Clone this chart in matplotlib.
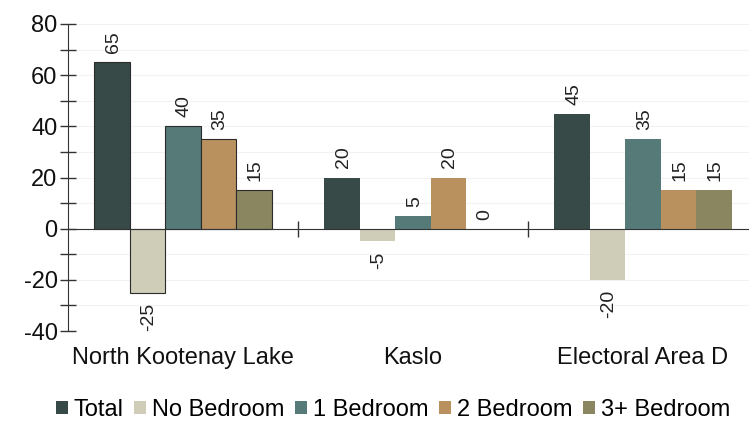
import matplotlib
matplotlib.use("Agg")
import matplotlib.pyplot as plt
import numpy as np
from matplotlib.ticker import MultipleLocator

plt.rcParams['font.family'] = ['Liberation Sans', 'DejaVu Sans']
plt.rcParams['axes.unicode_minus'] = False

categories = ["North Kootenay Lake", "Kaslo", "Electoral Area D"]
series_names = ["Total", "No Bedroom", "1 Bedroom", "2 Bedroom", "3+ Bedroom"]
total = [65, 20, 45]
no_bedroom = [-25, -5, -20]
one_bedroom = [40, 5, 35]
two_bedroom = [35, 20, 15]
three_bedroom = [15, 0, 15]
series_values = [total, no_bedroom, one_bedroom, two_bedroom, three_bedroom]
colors = ["#374a47", "#cfcdb8", "#557a78", "#b9915e", "#8a8660"]

fig = plt.figure(figsize=(7.49, 4.22), dpi=100)
ax = fig.add_axes([68/749, 1-331/422, 690/749, (331-24)/422])

n = len(series_names)
group_w = 0.77
bw = group_w / n
x = np.arange(len(categories))
for i, (name, vals, c) in enumerate(zip(series_names, series_values, colors)):
    pos = x - group_w/2 + bw*(i+0.5)
    bars = ax.bar(pos, vals, width=bw, color=c, linewidth=0, label=name, zorder=3)
    # first group drawn with a dark outline
    bars[0].set_edgecolor("#2b2b2b")
    bars[0].set_linewidth(0.8)
    for p, v in zip(pos, vals):
        if v >= 0:
            ax.annotate(str(v), (p, v), xytext=(1, 6.5), textcoords='offset points',
                        rotation=90, ha='center', va='bottom', fontsize=14, color='#222222')
        else:
            ax.annotate(str(v), (p, v), xytext=(1, -7), textcoords='offset points',
                        rotation=90, ha='center', va='top', fontsize=14, color='#222222')

ax.set_xlim(-0.5, 2.5)
ax.set_ylim(-40, 80)
ax.yaxis.set_major_locator(MultipleLocator(20))
ax.yaxis.set_minor_locator(MultipleLocator(10))
ax.grid(axis='y', which='both', color='#f2f2f2', linewidth=0.8, zorder=0)
ax.tick_params(axis='y', which='both', direction='inout', length=11, width=1, color='#333333', labelsize=17, pad=2)
ax.tick_params(axis='y', which='major', labelcolor='#111111')

for s in ['top', 'right']:
    ax.spines[s].set_visible(False)
ax.spines['left'].set_color('#333333')
ax.spines['bottom'].set_position(('data', 0))
ax.spines['bottom'].set_color('#333333')
ax.spines['bottom'].set_zorder(4)
ax.set_xticks([0.5, 1.5])
ax.set_xticklabels([])
ax.tick_params(axis='x', direction='inout', length=11, width=1, color='#333333')

for i, c in enumerate(categories):
    ax.text(i, -(358-331)/307, c, transform=ax.get_xaxis_transform(), ha='center', va='center',
            fontsize=17, color='#111111')

handles, labels = ax.get_legend_handles_labels()
leg = fig.legend(handles, labels, loc='center', bbox_to_anchor=(393/749, 1-410/422), ncol=5,
                 frameon=False, fontsize=17, handlelength=0.5, handleheight=0.5,
                 handletextpad=0.25, columnspacing=0.45)
for h in leg.legend_handles:
    h.set_linewidth(0)

fig.savefig("out.png", dpi=100)
